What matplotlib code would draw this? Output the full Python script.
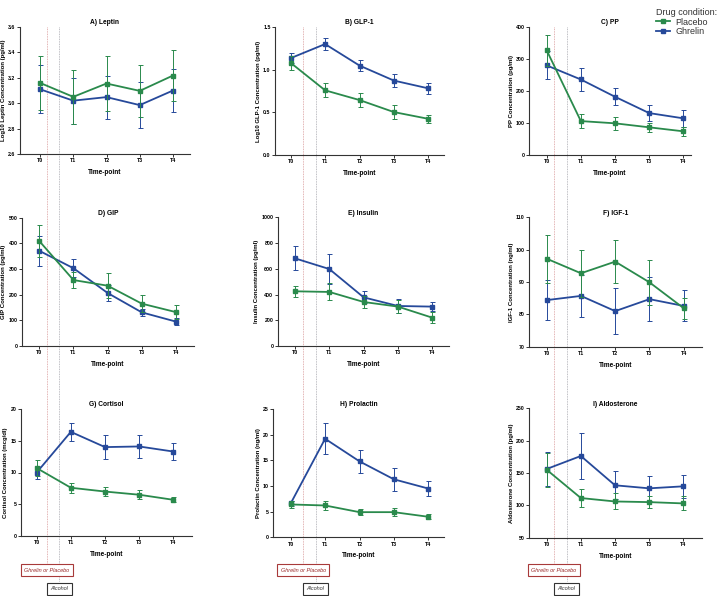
import matplotlib
matplotlib.use("Agg")
import matplotlib.pyplot as plt
from matplotlib.lines import Line2D

# ---------------- data ----------------
timepoints = ["T0", "T1", "T2", "T3", "T4"]
series_names = ["Placebo", "Ghrelin"]

titles = ["A) Leptin", "B) GLP-1", "C) PP", "D) GIP", "E) Insulin", "F) IGF-1",
          "G) Cortisol", "H) Prolactin", "I) Aldosterone"]
ylabels = ["Log10 Leptin Concentration (pg/ml)", "Log10 GLP-1 Concentration (pg/ml)",
           "PP Concentration (pg/ml)", "GIP Concentration (pg/ml)",
           "Insulin Concentration (pg/ml)", "IGF-1 Concentration (ng/ml)",
           "Cortisol Concentration (mcg/dl)", "Prolactin Concentration (ng/ml)",
           "Aldosterone Concentration (pg/ml)"]

leptin_placebo = [3.16, 3.05, 3.155, 3.097, 3.218]
leptin_placebo_sem = [0.215, 0.21, 0.215, 0.207, 0.204]
leptin_ghrelin = [3.11, 3.02, 3.048, 2.985, 3.10]
leptin_ghrelin_sem = [0.19, 0.18, 0.17, 0.18, 0.168]

glp1_placebo = [1.08, 0.758, 0.644, 0.503, 0.424]
glp1_placebo_sem = [0.08, 0.08, 0.087, 0.08, 0.05]
glp1_ghrelin = [1.135, 1.30, 1.048, 0.872, 0.781]
glp1_ghrelin_sem = [0.06, 0.07, 0.067, 0.08, 0.067]

pp_placebo = [327, 106, 99, 86.5, 74]
pp_placebo_sem = [48, 23, 20, 15, 15]
pp_ghrelin = [280, 236, 182, 131, 114.6]
pp_ghrelin_sem = [44, 37, 26, 25, 26]

gip_placebo = [409, 257, 235, 165, 132]
gip_placebo_sem = [61, 32, 48, 34, 28]
gip_ghrelin = [371, 303, 206.5, 131, 95]
gip_ghrelin_sem = [58, 35, 30, 15, 14]

insulin_placebo = [425, 420, 342, 306, 220]
insulin_placebo_sem = [41, 66, 47, 50, 44]
insulin_ghrelin = [681, 598, 378, 311, 306]
insulin_ghrelin_sem = [94, 114, 47, 52, 33]

igf1_placebo = [97.2, 92.7, 96.3, 89.9, 81.9]
igf1_placebo_sem = [7.4, 7.3, 6.7, 6.9, 3.3]
igf1_ghrelin = [84.4, 85.7, 81.0, 84.7, 82.6]
igf1_ghrelin_sem = [6.3, 6.5, 7.2, 6.9, 4.8]

cortisol_placebo = [10.7, 7.6, 7.0, 6.5, 5.7]
cortisol_placebo_sem = [1.3, 0.8, 0.65, 0.7, 0.4]
cortisol_ghrelin = [10.0, 16.4, 14.0, 14.1, 13.3]
cortisol_ghrelin_sem = [1.0, 1.45, 1.9, 1.85, 1.4]

prolactin_placebo = [6.4, 6.2, 4.9, 4.9, 4.0]
prolactin_placebo_sem = [0.75, 0.9, 0.65, 0.8, 0.5]
prolactin_ghrelin = [6.6, 19.2, 14.8, 11.3, 9.5]
prolactin_ghrelin_sem = [0.5, 3.0, 2.3, 2.2, 1.5]

aldo_placebo = [155, 111.3, 106, 105, 103]
aldo_placebo_sem = [26, 13.4, 12.4, 9.7, 10.7]
aldo_ghrelin = [156.2, 176.3, 131, 126.3, 129.4]
aldo_ghrelin_sem = [27, 35, 21.6, 19, 18]

y_ticks = [
    [2.6, 2.8, 3.0, 3.2, 3.4, 3.6],
    [0.0, 0.5, 1.0, 1.5],
    [0, 100, 200, 300, 400],
    [0, 100, 200, 300, 400, 500],
    [0, 200, 400, 600, 800, 1000],
    [70, 80, 90, 100, 110],
    [0, 5, 10, 15, 20],
    [0, 5, 10, 15, 20, 25],
    [50, 100, 150, 200, 250],
]
y_ticklabels = [
    ["2.6", "2.8", "3.0", "3.2", "3.4", "3.6"],
    ["0.0", "0.5", "1.0", "1.5"],
    ["0", "100", "200", "300", "400"],
    ["0", "100", "200", "300", "400", "500"],
    ["0", "200", "400", "600", "800", "1000"],
    ["70", "80", "90", "100", "110"],
    ["0", "5", "10", "15", "20"],
    ["0", "5", "10", "15", "20", "25"],
    ["50", "100", "150", "200", "250"],
]

placebo_all = [leptin_placebo, glp1_placebo, pp_placebo, gip_placebo, insulin_placebo,
               igf1_placebo, cortisol_placebo, prolactin_placebo, aldo_placebo]
placebo_sem_all = [leptin_placebo_sem, glp1_placebo_sem, pp_placebo_sem, gip_placebo_sem,
                   insulin_placebo_sem, igf1_placebo_sem, cortisol_placebo_sem,
                   prolactin_placebo_sem, aldo_placebo_sem]
ghrelin_all = [leptin_ghrelin, glp1_ghrelin, pp_ghrelin, gip_ghrelin, insulin_ghrelin,
               igf1_ghrelin, cortisol_ghrelin, prolactin_ghrelin, aldo_ghrelin]
ghrelin_sem_all = [leptin_ghrelin_sem, glp1_ghrelin_sem, pp_ghrelin_sem, gip_ghrelin_sem,
                   insulin_ghrelin_sem, igf1_ghrelin_sem, cortisol_ghrelin_sem,
                   prolactin_ghrelin_sem, aldo_ghrelin_sem]

# ---------------- style / layout ----------------
plt.rcParams['font.family'] = ['Liberation Sans', 'DejaVu Sans']
W, H = 727, 596
fig = plt.figure(figsize=(W / 100, H / 100), dpi=100)
fig.patch.set_facecolor("white")

GREEN = "#2a8a4c"
BLUE = "#26499a"
AXC = "#333333"

# (left, top, right, bottom, T0 px, T4 px) in pixels
layout = [
    (20, 27, 190, 154, 40, 173),
    (275, 27, 444, 155, 290.7, 428.3),
    (529.3, 27, 691, 155, 546.7, 683.3),
    (22, 217.7, 194, 346, 39.3, 176),
    (277.7, 217.3, 449.3, 346, 295, 432.3),
    (529.3, 217.3, 701.7, 346.7, 546.7, 683.7),
    (21, 409, 191.7, 536, 36.7, 173.3),
    (273.3, 409, 444.3, 537.3, 290.7, 428.3),
    (529.3, 408.3, 701.7, 537.7, 546.7, 683.3),
]

x = list(range(len(timepoints)))

for i, (l, t, r, b, p0, p4) in enumerate(layout):
    ax = fig.add_axes([l / W, 1 - b / H, (r - l) / W, (b - t) / H])
    ax.set_facecolor("none")
    sp = (p4 - p0) / 4.0
    ax.set_xlim(-(p0 - l) / sp, 4 + (r - p4) / sp)
    ax.set_ylim(y_ticks[i][0], y_ticks[i][-1])

    for vals, sems, col, z in ((ghrelin_all[i], ghrelin_sem_all[i], BLUE, 3),
                               (placebo_all[i], placebo_sem_all[i], GREEN, 4)):
        ax.errorbar(x, vals, yerr=sems, color=col, lw=1.3, marker="s", ms=2.3,
                    elinewidth=0.7, capsize=1.8, capthick=0.7, zorder=z,
                    ecolor=col, clip_on=False)

    for s in ("top", "right"):
        ax.spines[s].set_visible(False)
    for s in ("left", "bottom"):
        ax.spines[s].set_linewidth(0.8)
        ax.spines[s].set_color(AXC)
    ax.set_xticks(x)
    ax.set_xticklabels(timepoints, fontsize=3.8, fontweight="bold")
    ax.set_yticks(y_ticks[i])
    ax.set_yticklabels(y_ticklabels[i], fontsize=3.8, fontweight="bold")
    ax.tick_params(direction="out", length=2, width=0.7, color=AXC, pad=1.2)
    ax.set_xlabel("Time-point", fontsize=4.7, fontweight="bold", labelpad=4)
    ax.set_ylabel(ylabels[i], fontsize=4.3, fontweight="bold", labelpad=1.5)
    ax.set_title(titles[i], fontsize=4.8, fontweight="bold", pad=2)

# vertical dotted lines (treatment / alcohol timing) across each column
red_x = [46.7, 303.3, 554]
grey_x = [59.3, 315.7, 566.7]
for rx in red_x:
    fig.add_artist(Line2D([rx / W, rx / W], [1 - 27 / H, 1 - 563 / H], color="#d99a9a",
                          lw=0.6, ls=(0, (1.0, 1.0)), zorder=-1))
for gx in grey_x:
    fig.add_artist(Line2D([gx / W, gx / W], [1 - 27 / H, 1 - 581 / H], color="#a8a8b0",
                          lw=0.6, ls=(0, (1.0, 1.0)), zorder=-1))

for rx, gx in zip(red_x, grey_x):
    fig.text(rx / W, 1 - 570 / H, "Ghrelin or Placebo", ha="center", va="center",
             fontsize=4, style="italic", color="#9a2b2b",
             bbox=dict(boxstyle="square,pad=0.6", fc="white", ec="#a83a3a", lw=0.8))
    fig.text(gx / W, 1 - 589 / H, "Alcohol", ha="center", va="center",
             fontsize=4, style="italic", color="#333333",
             bbox=dict(boxstyle="square,pad=0.6", fc="white", ec="#333333", lw=0.8))

# legend
handles = [Line2D([], [], color=GREEN, lw=1.3, marker="s", ms=2.3),
           Line2D([], [], color=BLUE, lw=1.3, marker="s", ms=2.3)]
leg = fig.legend(handles, series_names, title="Drug condition:", loc="upper left",
                 bbox_to_anchor=(652 / W, 1 - 4 / H), frameon=False, fontsize=6.5,
                 title_fontsize=6.5, handlelength=1.6, handletextpad=0.6,
                 labelspacing=0.1, borderaxespad=0, alignment="left")
for txt in leg.get_texts():
    txt.set_color("#333333")
leg.get_title().set_color("#333333")

fig.savefig("out.png", dpi=100, facecolor="white")
